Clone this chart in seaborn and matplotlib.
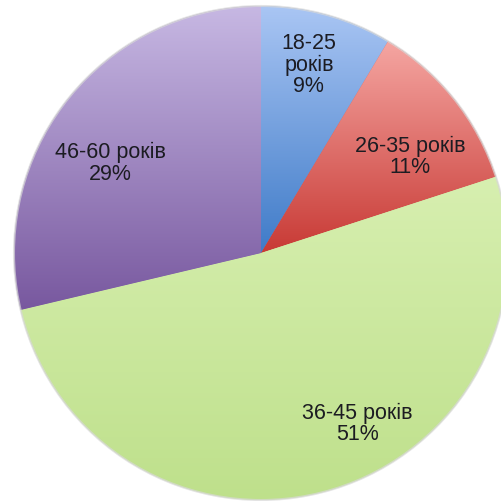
import numpy as np
import matplotlib
matplotlib.use("Agg")
import matplotlib.pyplot as plt
import seaborn as sns

# Age groups (clockwise from 12 o'clock) and their shares, %
groups = ["18-25\nроків", "26-35 років", "36-45 років", "46-60 років"]
shares = [8.6, 11.4, 51.3, 28.7]

# vertical gradient of each slice: top colour, bottom colour
grad_top = ["#aac6f4", "#f5a6a2", "#d7efb0", "#c7b8e3"]
grad_bottom = ["#3f7bc8", "#c83a35", "#bee08b", "#78589f"]

# label centres relative to the pie centre, in radii
label_xy = [(0.194, 0.761), (0.603, 0.389), (0.389, -0.692), (-0.611, 0.364)]


def gradient_fill(ax, wedge, c_top, c_bottom):
    """Fill a wedge with a top-to-bottom gradient clipped to its shape."""
    verts = wedge.get_path().transformed(wedge.get_patch_transform()).vertices
    x0, y0 = verts.min(axis=0)
    x1, y1 = verts.max(axis=0)
    cmap = sns.blend_palette([c_bottom, c_top], n_colors=256, as_cmap=True)
    grad = np.linspace(0, 1, 256).reshape(-1, 1)
    im = ax.imshow(grad, cmap=cmap, origin="lower", aspect="auto",
                   extent=[x0, x1, y0, y1], interpolation="bicubic", zorder=2)
    im.set_clip_path(wedge)


def main():
    sns.set_theme(style="white")
    plt.rcParams["font.family"] = ["Liberation Sans", "DejaVu Sans"]

    fig = plt.figure(figsize=(5.02, 5.01), dpi=100)
    ax = fig.add_axes([0, 0, 1, 1])

    wedges, _ = ax.pie(shares, startangle=90, counterclock=False,
                       colors=grad_bottom, radius=1.0,
                       wedgeprops=dict(linewidth=0))

    for w, ct, cb in zip(wedges, grad_top, grad_bottom):
        gradient_fill(ax, w, ct, cb)

    # faint soft rim like the original
    rim = plt.Circle((0, 0), 1.0, fill=False, edgecolor="#d8d8d8",
                     linewidth=1.5, alpha=0.7, zorder=3)
    ax.add_patch(rim)

    for name, val, (lx, ly) in zip(groups, shares, label_xy):
        ax.text(lx, ly, f"{name}\n{val:.0f}%", ha="center", va="center",
                fontsize=15.5, color="#1c1c22", linespacing=1.05, zorder=5)

    # pie centre at (261, 253) px from top-left, radius 247 px
    r_px = 247.0
    ax.set_aspect("auto")
    ax.set_xlim(-261 / r_px, (502 - 261) / r_px)
    ax.set_ylim(-(501 - 253) / r_px, 253 / r_px)
    ax.axis("off")

    fig.savefig("out.png", dpi=100, facecolor="white")
    plt.close(fig)


if __name__ == "__main__":
    main()
